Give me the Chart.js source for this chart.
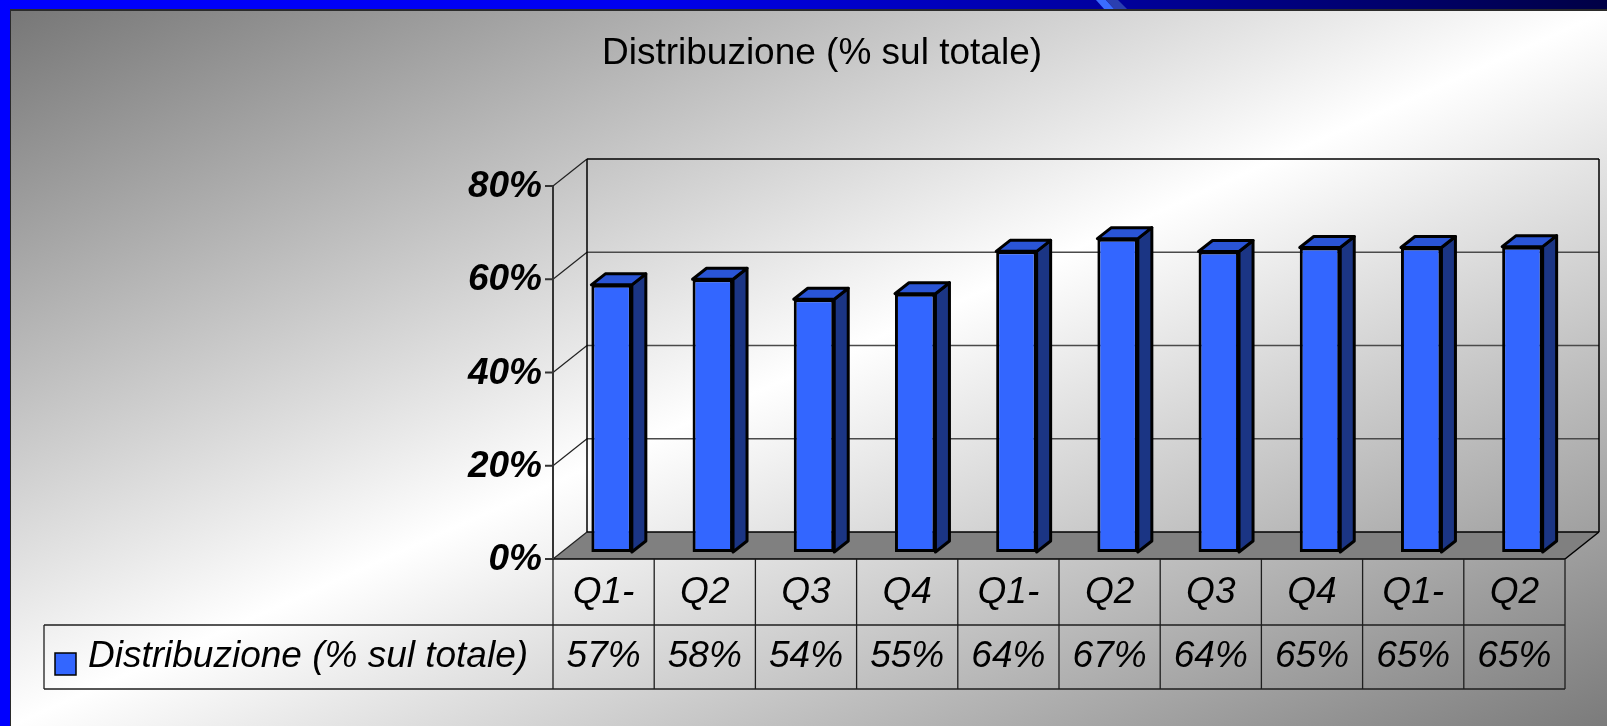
<!DOCTYPE html>
<html lang="it">
<head>
<meta charset="utf-8">
<title>Distribuzione (% sul totale)</title>
<script src="https://cdn.jsdelivr.net/npm/chart.js@4/dist/chart.umd.min.js"></script>
<style>
  html, body { margin: 0; padding: 0; overflow: hidden; background: #fff; }
  canvas { display: block; }
</style>
</head>
<body>
<canvas id="myChart" width="1607" height="726"></canvas>
<script>
// dati
const title = 'Distribuzione (% sul totale)';
const seriesName = 'Distribuzione (% sul totale)';
const labels = ['Q1-', 'Q2', 'Q3', 'Q4', 'Q1-', 'Q2', 'Q3', 'Q4', 'Q1-', 'Q2'];
const distribuzione = [57.3, 58.49, 54.2, 55.4, 64.49, 67.2, 64.45, 65.3, 65.3, 65.49];

// prospettiva finta 3D
const FRONT = { dx: -8, dy: 7 };   // piano delle barre -> piano frontale
const WALL = { dx: 34, dy: -27 };  // piano frontale -> parete di fondo
const DEPTH = { dx: 14, dy: -11 }; // profondita' della barra
const FONT = '"Liberation Sans", Arial, sans-serif';
const BAR_FRONT = '#3366ff', BAR_TOP = '#2a55d6', BAR_SIDE = '#1b3584';

function poly(c, pts) {
  c.beginPath();
  c.moveTo(pts[0][0], pts[0][1]);
  for (let i = 1; i < pts.length; i++) c.lineTo(pts[i][0], pts[i][1]);
  c.closePath();
}
function line(c, x0, y0, x1, y1) {
  c.beginPath(); c.moveTo(x0, y0); c.lineTo(x1, y1); c.stroke();
}
function geom(chart) {
  const a = chart.chartArea, y = chart.scales.y;
  const fx0 = a.left + FRONT.dx, fx1 = a.right + FRONT.dx;
  const fy = v => y.getPixelForValue(v) + FRONT.dy;
  const ticks = y.ticks.map(t => t.value);
  return { fx0, fx1, fy, bx0: fx0 + WALL.dx, bx1: fx1 + WALL.dx, by: v => fy(v) + WALL.dy,
    ticks, max: y.max };
}

const background = {
  id: 'background',
  beforeDraw(chart) {
    const c = chart.ctx, W = chart.width, H = chart.height;
    c.save();
    c.fillStyle = '#0000ff';
    c.fillRect(0, 0, W, H);
    const band = c.createLinearGradient(0, 0, W, 0);
    band.addColorStop(0, '#0000ff');
    band.addColorStop(0.4, '#0000f0');
    band.addColorStop(0.7, '#00009a');
    band.addColorStop(1, '#000045');
    c.fillStyle = band;
    c.fillRect(0, 0, W, 10);
    c.fillStyle = '#3a6cff';
    poly(c, [[1096, 0], [1106, 0], [1115, 10], [1105, 10]]); c.fill();
    c.fillStyle = '#2a3fb0';
    poly(c, [[1106, 0], [1118, 0], [1128, 10], [1115, 10]]); c.fill();
    c.fillStyle = '#2b2b2b';
    c.fillRect(10, 9, W - 10, 2);
    c.fillRect(10, 9, 2, H - 9);
    c.translate(11, 11);
    c.scale(W - 11, H - 11);
    const g = c.createLinearGradient(0, 0, 1, 1);
    g.addColorStop(0, '#777777');
    g.addColorStop(0.5, '#ffffff');
    g.addColorStop(1, '#7b7b7b');
    c.fillStyle = g;
    c.fillRect(0, 0, 1, 1);
    c.restore();
  }
};

const walls = {
  id: 'walls',
  beforeDatasetsDraw(chart) {
    const c = chart.ctx, G = geom(chart);
    c.save();
    // pavimento
    c.fillStyle = '#808080';
    poly(c, [[G.fx0, G.fy(0)], [G.fx1, G.fy(0)], [G.bx1, G.by(0)], [G.bx0, G.by(0)]]);
    c.fill();
    // griglia parete di fondo e parete sinistra
    G.ticks.forEach(v => {
      const edge = v === 0 || v === G.max;
      c.strokeStyle = edge ? '#000' : '#4a4a4a';
      c.lineWidth = edge ? 1.5 : 1.6;
      line(c, G.bx0, G.by(v), G.bx1, G.by(v));
      c.strokeStyle = '#222';
      c.lineWidth = 1.2;
      line(c, G.fx0, G.fy(v), G.bx0, G.by(v));
    });
    c.strokeStyle = '#000';
    c.lineWidth = 1.5;
    line(c, G.bx0, G.by(G.max), G.bx0, G.by(0));
    line(c, G.bx1, G.by(G.max), G.bx1, G.by(0));
    line(c, G.fx1, G.fy(0), G.bx1, G.by(0));
    line(c, G.fx0, G.fy(0), G.fx1, G.fy(0));
    // facce laterali e superiori delle barre
    c.lineWidth = 3;
    c.lineJoin = 'round';
    chart.getDatasetMeta(0).data.forEach(b => {
      const l = b.x - b.width / 2, r = b.x + b.width / 2;
      c.fillStyle = BAR_SIDE;
      poly(c, [[r, b.y], [r + DEPTH.dx, b.y + DEPTH.dy], [r + DEPTH.dx, b.base + DEPTH.dy], [r, b.base]]);
      c.fill(); c.stroke();
      c.fillStyle = BAR_TOP;
      poly(c, [[l, b.y], [r, b.y], [r + DEPTH.dx, b.y + DEPTH.dy], [l + DEPTH.dx, b.y + DEPTH.dy]]);
      c.fill(); c.stroke();
    });
    c.restore();
  }
};

const foreground = {
  id: 'foreground',
  afterDraw(chart) {
    const c = chart.ctx, G = geom(chart), x = chart.scales.x;
    const n = labels.length, colW = (G.fx1 - G.fx0) / n;
    c.save();
    // asse verticale frontale
    c.strokeStyle = '#333';
    c.lineWidth = 2;
    line(c, G.fx0, G.fy(G.max), G.fx0, G.fy(0));
    c.fillStyle = '#000';
    c.font = 'italic bold 37px ' + FONT;
    c.textAlign = 'right';
    c.textBaseline = 'middle';
    G.ticks.forEach(v => {
      line(c, G.fx0 - 8, G.fy(v), G.fx0, G.fy(v));
      c.fillText(v + '%', G.fx0 - 11, G.fy(v) + 1);
    });
    // tabella dati
    const top = G.fy(0) + 2, rowH = 64, mid = top + rowH, bottom = top + 2 * rowH;
    const legendLeft = 44;
    c.strokeStyle = '#1e1e1e';
    c.lineWidth = 1.3;
    line(c, legendLeft, mid, G.fx1, mid);
    line(c, legendLeft, bottom, G.fx1, bottom);
    line(c, legendLeft, mid, legendLeft, bottom);
    for (let i = 0; i <= n; i++) line(c, G.fx0 + i * colW, G.fy(0), G.fx0 + i * colW, bottom);
    c.font = 'italic 37px ' + FONT;
    c.textAlign = 'center';
    labels.forEach((lab, i) => {
      const cx = x.getPixelForValue(i) + FRONT.dx;
      c.fillText(lab, cx, top + rowH / 2);
      c.fillText(Math.round(distribuzione[i]) + '%', cx, mid + rowH / 2);
    });
    c.fillStyle = BAR_FRONT;
    c.fillRect(55, mid + 28, 21, 22);
    c.strokeStyle = '#000';
    c.lineWidth = 1.5;
    c.strokeRect(55, mid + 28, 21, 22);
    c.fillStyle = '#000';
    c.textAlign = 'left';
    c.fillText(seriesName, 88, mid + rowH / 2);
    // titolo
    c.font = '37px ' + FONT;
    c.textAlign = 'center';
    c.fillText(title, 822, 54);
    c.restore();
  }
};

const ctx = document.getElementById('myChart');
new Chart(ctx, {
  type: 'bar',
  data: {
    labels: labels,
    datasets: [{
      label: seriesName,
      data: distribuzione,
      backgroundColor: BAR_FRONT,
      borderColor: '#000',
      borderWidth: 3,
      borderSkipped: false,
      barPercentage: 0.4,
      categoryPercentage: 1
    }]
  },
  options: {
    responsive: false,
    animation: false,
    events: [],
    layout: { padding: { left: 561, right: 34, top: 179, bottom: 174 } },
    scales: {
      x: { display: false },
      y: { display: false, min: 0, max: 80, ticks: { stepSize: 20 } }
    },
    plugins: {
      legend: { display: false },
      title: { display: false },
      tooltip: { enabled: false }
    }
  },
  plugins: [background, walls, foreground]
});
</script>
</body>
</html>
